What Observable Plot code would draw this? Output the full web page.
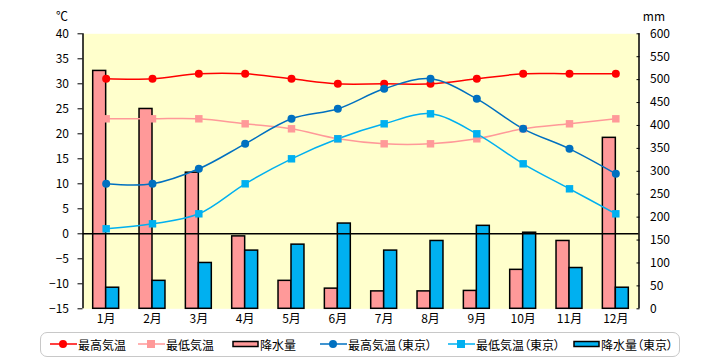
<!DOCTYPE html>
<html>
<head>
<meta charset="utf-8">
<script src="https://cdn.jsdelivr.net/npm/d3@7"></script>
<script src="https://cdn.jsdelivr.net/npm/@observablehq/plot@0.6"></script>
<style>
  body { margin: 0; background: #fff; }
  #wrap { position: relative; width: 720px; height: 360px; font-family: "Noto Sans CJK JP", sans-serif; font-size: 12px; color: #000; }
  #legend { position: absolute; left: 40px; top: 332px; width: 640px; height: 25px; border: 1.5px solid #c8c8c8; border-radius: 7px; box-sizing: border-box; }
  .item { position: absolute; top: 0; height: 22px; display: flex; align-items: center; white-space: nowrap; font-feature-settings: "palt"; }
  .item svg { display: block; }
</style>
</head>
<body>
<div id="wrap"><div id="chart"></div><div id="legend"></div></div>
<script>
const months = [1, 2, 3, 4, 5, 6, 7, 8, 9, 10, 11, 12];
const monthLabels = ["1月","2月","3月","4月","5月","6月","7月","8月","9月","10月","11月","12月"];
const maxTemp = [31, 31, 32, 32, 31, 30, 30, 30, 31, 32, 32, 32];
const minTemp = [23, 23, 23, 22, 21, 19, 18, 18, 19, 21, 22, 23];
const precip = [519, 436, 297, 158, 61, 44, 38, 38, 39, 85, 148, 373];
const tokyoMax = [10, 10, 13, 18, 23, 25, 29, 31, 27, 21, 17, 12];
const tokyoMin = [1, 2, 4, 10, 15, 19, 22, 24, 20, 14, 9, 4];
const tokyoPrecip = [46, 61, 100, 127, 140, 186, 127, 148, 181, 166, 89, 46];
const tempTicks = [-15, -10, -5, 0, 5, 10, 15, 20, 25, 30, 35, 40];
const precipTicks = [0, 50, 100, 150, 200, 250, 300, 350, 400, 450, 500, 550, 600];
const seriesNames = ["最高気温", "最低気温", "降水量", "最高気温（東京）", "最低気温（東京）", "降水量（東京）"];

const tMin = -15, tMax = 40, pMax = 600;
const conv = mm => tMin + mm * (tMax - tMin) / pMax;
const unconv = t => Math.round((t - tMin) * pMax / (tMax - tMin));
const xDomain = [0.5, 12.5];
const barW = 0.28;

const rows = months.map((m, i) => ({
  m, label: monthLabels[i], max: maxTemp[i], min: minTemp[i], p: precip[i],
  tmax: tokyoMax[i], tmin: tokyoMin[i], tp: tokyoPrecip[i]
}));

const C = { red: "#FF0000", pink: "#FF9999", blue: "#0070C0", cyan: "#00B0F0" };
const lw = 1.5;

const chart = Plot.plot({
  width: 720,
  height: 330,
  marginLeft: 82.5,
  marginRight: 81.5,
  marginTop: 33.3,
  marginBottom: 21.7,
  style: { fontFamily: "'Noto Sans CJK JP', sans-serif", fontSize: "12px", color: "#000", background: "transparent" },
  x: { type: "linear", domain: xDomain },
  y: { domain: [tMin, tMax] },
  marks: [
    Plot.frame({ fill: "#FFFFCC", stroke: null }),
    Plot.rectY(rows, { x1: d => d.m - barW, x2: d => d.m, y1: tMin, y2: d => conv(d.p), fill: C.pink, stroke: "#000", strokeWidth: 1.5 }),
    Plot.rectY(rows, { x1: d => d.m, x2: d => d.m + barW, y1: tMin, y2: d => conv(d.tp), fill: C.cyan, stroke: "#000", strokeWidth: 1.5 }),
    Plot.ruleY([0], { stroke: "#000", strokeWidth: 1.5 }),
    Plot.ruleX(xDomain, { stroke: "#000", strokeWidth: 1.5 }),
    Plot.line(rows, { x: "m", y: "min", stroke: C.pink, strokeWidth: lw, curve: "catmull-rom" }),
    Plot.line(rows, { x: "m", y: "max", stroke: C.red, strokeWidth: lw, curve: "catmull-rom" }),
    Plot.line(rows, { x: "m", y: "tmin", stroke: C.cyan, strokeWidth: lw, curve: "catmull-rom" }),
    Plot.line(rows, { x: "m", y: "tmax", stroke: C.blue, strokeWidth: lw, curve: "catmull-rom" }),
    Plot.dot(rows, { x: "m", y: "min", symbol: "square", r: 4.2, fill: C.pink }),
    Plot.dot(rows, { x: "m", y: "max", r: 4, fill: C.red }),
    Plot.dot(rows, { x: "m", y: "tmin", symbol: "square", r: 4.2, fill: C.cyan }),
    Plot.dot(rows, { x: "m", y: "tmax", r: 4, fill: C.blue }),
    Plot.axisY(tempTicks, { anchor: "left", tickSize: 5, tickPadding: 9, label: null, fontSize: 12 }),
    Plot.axisY(precipTicks.map(conv), { anchor: "right", tickSize: -3, tickPadding: 14, tickFormat: unconv, label: null, fontSize: 12 }),
    Plot.axisX(months, { anchor: "bottom", tickSize: 0, tickPadding: 6, tickFormat: m => monthLabels[m - 1], label: null, fontSize: 12 }),
    Plot.text(["℃"], { frameAnchor: "top-left", dx: -27, dy: -21, fontSize: 12 }),
    Plot.text(["mm"], { frameAnchor: "top-right", dx: 26, dy: -21, fontSize: 12 })
  ]
});
document.getElementById("chart").appendChild(chart);

// legend
const legend = document.getElementById("legend");
const items = [
  { name: seriesNames[0], kind: "line", color: C.red, marker: "circle", left: 9 },
  { name: seriesNames[1], kind: "line", color: C.pink, marker: "square", left: 97 },
  { name: seriesNames[2], kind: "bar", color: C.pink, left: 191 },
  { name: seriesNames[3], kind: "line", color: C.blue, marker: "circle", left: 279 },
  { name: seriesNames[4], kind: "line", color: C.cyan, marker: "square", left: 407 },
  { name: seriesNames[5], kind: "bar", color: C.cyan, left: 532 }
];
for (const it of items) {
  const div = document.createElement("div");
  div.className = "item";
  div.style.left = it.left + "px";
  let sw;
  if (it.kind === "line") {
    const mk = it.marker === "circle"
      ? `<circle cx="13" cy="8" r="4" fill="${it.color}"/>`
      : `<rect x="9" y="4" width="8" height="8" fill="${it.color}"/>`;
    sw = `<svg width="27" height="16"><line x1="0" y1="8" x2="27" y2="8" stroke="${it.color}" stroke-width="1.5"/>${mk}</svg>`;
  } else {
    sw = `<svg width="27" height="16"><rect x="1" y="5.5" width="25" height="5" fill="${it.color}" stroke="#000" stroke-width="1.5"/></svg>`;
  }
  div.innerHTML = sw + `<span style="margin-left:1px">${it.name}</span>`;
  legend.appendChild(div);
}
</script>
</body>
</html>
